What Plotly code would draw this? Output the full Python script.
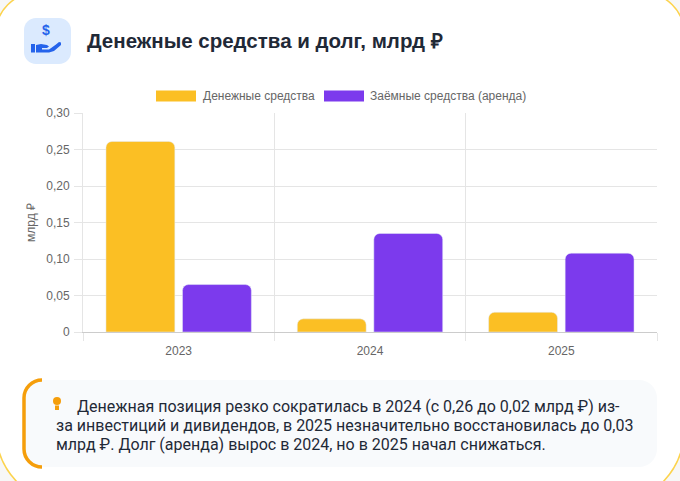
import plotly.graph_objects as go

# --- Данные ---
years = ["2023", "2024", "2025"]
cash = [0.261, 0.018, 0.027]
debt = [0.065, 0.135, 0.108]
y_ticks = [0, 0.05, 0.10, 0.15, 0.20, 0.25, 0.30]
y_tick_labels = ["0", "0,05", "0,10", "0,15", "0,20", "0,25", "0,30"]

series_names = ["Денежные средства", "Заёмные средства (аренда)"]
series_colors = ["#fbbf24", "#7c3aed"]

title_text = "Денежные средства и долг, млрд ₽"
note_lines = [
    "Денежная позиция резко сократилась в 2024 (с 0,26 до 0,02 млрд ₽) из-",
    "за инвестиций и дивидендов, в 2025 незначительно восстановилась до 0,03",
    "млрд ₽. Долг (аренда) вырос в 2024, но в 2025 начал снижаться.",
]

W, H = 680, 481
# область графика в пикселях
L, R, T, B = 83, 657, 113, 332


def px(x):
    return (x - L) / (R - L)


def py(y):
    return (B - y) / (B - T)


def pt(x, y):
    return f"{px(x):.5f},{py(y):.5f}"


def path(points, close=True):
    s = "M " + " L ".join(pt(x, y) for x, y in points)
    return s + (" Z" if close else "")


def rounded_rect(x0, y0, x1, y1, r, rb=None):
    # прямоугольник со скруглёнными углами (rb - радиус нижних углов)
    rb = r if rb is None else rb
    k, kb = 0.55 * r, 0.55 * rb
    return " ".join([
        "M " + pt(x0 + r, y0), "L " + pt(x1 - r, y0),
        "C " + pt(x1 - r + k, y0) + " " + pt(x1, y0 + r - k) + " " + pt(x1, y0 + r),
        "L " + pt(x1, y1 - rb),
        "C " + pt(x1, y1 - rb + kb) + " " + pt(x1 - rb + kb, y1) + " " + pt(x1 - rb, y1),
        "L " + pt(x0 + rb, y1),
        "C " + pt(x0 + rb - kb, y1) + " " + pt(x0, y1 - rb + kb) + " " + pt(x0, y1 - rb),
        "L " + pt(x0, y0 + r),
        "C " + pt(x0, y0 + r - k) + " " + pt(x0 + r - k, y0) + " " + pt(x0 + r, y0),
        "Z",
    ])


fig = go.Figure()
for name, vals, color in zip(series_names, [cash, debt], series_colors):
    fig.add_trace(go.Bar(
        x=years, y=vals, name=name, showlegend=False,
        marker=dict(color=color, cornerradius=6),
    ))

shapes = []
# карточка (немного шире окна)
shapes.append(dict(type="path", xref="paper", yref="paper", layer="below",
                   path=rounded_rect(-4, -7, 684, 505, 40, 75),
                   line=dict(color="#fcd34d", width=1.5), fillcolor="white", opacity=1))
# иконка
shapes.append(dict(type="path", xref="paper", yref="paper", layer="below",
                   path=rounded_rect(24, 18, 71, 64, 12),
                   line=dict(width=0), fillcolor="#dbeafe"))
hand = [(36, 45), (41, 44), (47, 45), (49, 46.5), (47, 48), (42, 48), (42, 49.5),
        (49, 49.5), (56, 44.5), (59, 42), (61, 42.5), (61, 45), (54, 51), (49, 52.5), (36, 52.5)]
shapes.append(dict(type="path", xref="paper", yref="paper",
                   path=path(hand), line=dict(width=0), fillcolor="#2563eb"))
shapes.append(dict(type="path", xref="paper", yref="paper",
                   path=path([(31, 44), (35, 44), (35, 52.5), (31, 52.5)]),
                   line=dict(width=0), fillcolor="#2563eb"))
# легенда (широкие плашки как в оригинале)
legend_box_x = [156, 324]
legend_text_x = [201, 368]
for bx, name, color in zip(legend_box_x, series_names, series_colors):
    shapes.append(dict(type="rect", xref="paper", yref="paper",
                       x0=px(bx), x1=px(bx + 40), y0=py(90.5), y1=py(101.5),
                       line=dict(width=0), fillcolor=color))
# блок с выводом
shapes.append(dict(type="path", xref="paper", yref="paper", layer="below",
                   path=rounded_rect(24, 380, 657, 467, 18),
                   line=dict(width=0), fillcolor="#f8fafc"))
k = 0.55 * 18
left_border = ("M " + pt(42, 380) + " C " + pt(42 - k, 380) + " " + pt(24, 398 - k) + " " + pt(24, 398)
               + " L " + pt(24, 449)
               + " C " + pt(24, 449 + k) + " " + pt(42 - k, 467) + " " + pt(42, 467))
shapes.append(dict(type="path", xref="paper", yref="paper",
                   path=left_border, line=dict(color="#f59e0b", width=3.5)))
# лампочка
shapes.append(dict(type="circle", xref="paper", yref="paper",
                   x0=px(53), x1=px(61), y0=py(397), y1=py(405),
                   line=dict(width=0), fillcolor="#f59e0b"))
shapes.append(dict(type="rect", xref="paper", yref="paper",
                   x0=px(55), x1=px(59), y0=py(405.5), y1=py(410),
                   line=dict(width=0), fillcolor="#f59e0b"))

annotations = [
    dict(text="<b>$</b>", x=px(46), y=py(30), xref="paper", yref="paper",
         xanchor="center", yanchor="middle", showarrow=False,
         font=dict(family="Liberation Sans", size=14, color="#2563eb")),
    dict(text=f"<b>{title_text}</b>", x=px(85), y=py(40), xref="paper", yref="paper",
         xanchor="left", yanchor="middle", showarrow=False,
         font=dict(family="Liberation Sans", size=20.5, color="#1f2937")),
]
for tx, name in zip(legend_text_x, series_names):
    annotations.append(dict(text=name, x=px(tx), y=py(96), xref="paper", yref="paper",
                            xanchor="left", yanchor="middle", showarrow=False,
                            font=dict(family="Liberation Sans", size=12, color="#666666")))
note_x = [75, 54, 54]
note_y = [406, 425, 444]
for line, nx, ny in zip(note_lines, note_x, note_y):
    annotations.append(dict(text=line, x=px(nx), y=py(ny), xref="paper", yref="paper",
                            xanchor="left", yanchor="middle", showarrow=False,
                            font=dict(family="Roboto", size=16, color="#1f2937")))

fig.update_layout(
    width=W, height=H,
    margin=dict(l=L, r=W - R, t=T, b=H - B),
    paper_bgcolor="#f7f7f7", plot_bgcolor="white",
    font=dict(family="Liberation Sans", size=12, color="#666666"),
    barmode="group", bargap=0.2, bargroupgap=0.1,
    shapes=shapes, annotations=annotations,
    xaxis=dict(type="category", tickson="boundaries", showgrid=True, gridcolor="#e5e5e5",
               ticks="outside", ticklen=8, tickcolor="#e5e5e5", ticklabelstandoff=8,
               showline=True, linecolor="#cccccc", range=[-0.5, 2.5]),
    yaxis=dict(range=[0, 0.30], tickvals=y_ticks, ticktext=y_tick_labels,
               showgrid=True, gridcolor="#e5e5e5", ticks="outside", ticklen=8,
               tickcolor="#e5e5e5", ticklabelstandoff=2, showline=True, linecolor="#e5e5e5",
               zeroline=False,
               title=dict(text="млрд ₽", font=dict(size=12, color="#666666"), standoff=8)),
)

# убираем стандартный отступ body, чтобы картинка встала в окно 680x481
fig.write_html("out.html", config={"displayModeBar": False},
               post_script="document.body.style.margin='0';")
